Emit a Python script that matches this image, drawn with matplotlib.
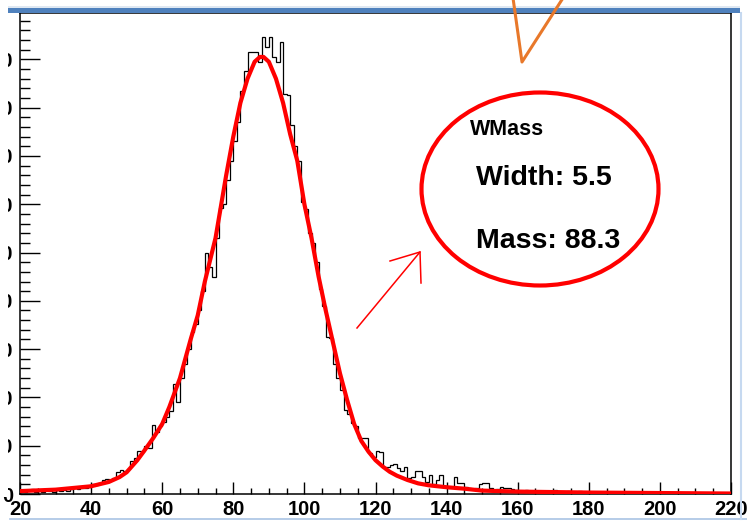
import matplotlib
matplotlib.use("Agg")
import matplotlib.pyplot as plt
import numpy as np
from matplotlib.patches import Ellipse, Rectangle
from matplotlib.lines import Line2D
from matplotlib.ticker import MultipleLocator

# ---------------- data ----------------
bin_lo = 20
bin_hi = 220
counts = [
    6, 4, 8, 10, 5, 6, 4, 9, 7, 5,            # 20-29
    8, 6, 9, 7, 10, 12, 11, 13, 12, 15,       # 30-39
    20, 18, 22, 30, 32, 30, 34, 45, 50, 48,   # 40-49
    52, 68, 75, 90, 88, 100, 95, 142, 128, 140,  # 50-59
    150, 160, 172, 228, 190, 240, 270, 300, 335, 352,  # 60-69
    380, 420, 500, 470, 450, 530, 592, 600, 650, 690,  # 70-79
    730, 770, 835, 875, 915, 915, 915, 895, 946, 925,  # 80-89
    946, 905, 895, 936, 828, 826, 764, 720, 690, 605,  # 90-99
    590, 540, 520, 480, 425, 390, 325, 322, 270, 240,  # 100-109
    215, 174, 165, 147, 140, 116, 116, 115, 85, 77,    # 110-119
    89, 88, 56, 56, 60, 62, 54, 48, 55, 33,            # 120-129
    36, 48, 47, 35, 25, 39, 20, 30, 39, 14,            # 130-139
    14, 15, 35, 23, 22, 14, 12, 10, 12, 20,            # 140-149
    23, 22, 12, 8, 10, 14, 12, 13, 10, 8,              # 150-159
    7, 5, 8, 6, 4, 7, 5, 3, 6, 4,                      # 160-169
    8, 3, 5, 2, 6, 4, 3, 7, 2, 4,                      # 170-179
    3, 5, 2, 4, 3, 2, 5, 1, 3, 2,                      # 180-189
    3, 2, 1, 4, 2, 1, 2, 3, 1, 2,                      # 190-199
    1, 2, 3, 1, 2, 1, 1, 3, 1, 2,                      # 200-209
    1, 0, 2, 1, 1, 0, 2, 1, 0, 1,                      # 210-219
]
fit_x = [20, 30, 40, 45, 48, 50, 53, 55, 57.5, 60, 62, 65, 68, 70, 72, 75, 78,
         80, 82, 84, 86, 87.5, 88.5, 90, 92, 94, 96, 98, 100, 102, 104, 106,
         108, 110, 112, 114, 116, 118, 120, 122, 124, 126, 129, 132, 135, 140,
         145, 150, 160, 170, 180, 200, 220]
fit_y = [6, 9, 16, 25, 35, 45, 70, 90, 116, 145, 180, 240, 320, 370, 440, 530,
         660, 740, 810, 860, 895, 905, 905, 895, 860, 810, 745, 690, 600, 530,
         450, 380, 315, 250, 195, 145, 110, 88, 70, 57, 46, 38, 29, 22, 18, 14,
         11, 7, 5, 4, 3, 2, 1]
x_tick_values = [20, 40, 60, 80, 100, 120, 140, 160, 180, 200, 220]
y_tick_values = [0, 100, 200, 300, 400, 500, 600, 700, 800, 900]
title_text = "WMass"
width_text = "Width: 5.5"
mass_text = "Mass: 88.3"

# ---------------- figure ----------------
W, H = 747, 521
fig = plt.figure(figsize=(W / 100, H / 100), dpi=100)
fig.patch.set_facecolor("white")

def fx(x):
    return x / W

def fy(y):
    return 1 - y / H

FONT = "Liberation Sans"

ax = fig.add_axes([20 / W, 1 - 494 / H, 711 / W, 481 / H])
edges = np.arange(bin_lo, bin_hi + 1, 1)
ax.stairs(counts, edges, color="black", lw=0.9, zorder=2)
ax.plot(fit_x, fit_y, color="red", lw=3.0, zorder=3, solid_joinstyle="round")

ax.set_xlim(bin_lo, bin_hi)
ax.set_ylim(0, 996)
ax.set_xticks(x_tick_values)
ax.set_yticks(y_tick_values)
ax.xaxis.set_minor_locator(MultipleLocator(5))
ax.yaxis.set_minor_locator(MultipleLocator(20))
ax.tick_params(axis="x", which="major", direction="in", length=9, width=1.0,
               pad=4, labelsize=14.5)
ax.tick_params(axis="x", which="minor", direction="in", length=4.5, width=1.0)
ax.tick_params(axis="y", which="major", direction="in", length=14.5, width=1.0,
               pad=5, labelsize=14.5)
ax.tick_params(axis="y", which="minor", direction="in", length=7.2, width=1.0)
for lab in ax.get_xticklabels() + ax.get_yticklabels():
    lab.set_fontfamily(FONT)
    lab.set_fontweight("bold")
for s in ax.spines.values():
    s.set_linewidth(1.1)
    s.set_color("black")

# screenshot frame decorations: white strip at the cropped left edge
fig.add_artist(Rectangle((0, fy(497)), fx(8.0), fy(8) - fy(497),
                         transform=fig.transFigure,
                         facecolor="white", edgecolor="none", zorder=10))
fig.add_artist(Rectangle((fx(8), fy(12.5)), fx(740) - fx(8), (12.5 - 8) / H,
                         transform=fig.transFigure, facecolor="#4f81bd",
                         edgecolor="none", zorder=11))
fig.add_artist(Rectangle((fx(8), fy(8)), fx(740) - fx(8), 2 / H,
                         transform=fig.transFigure, facecolor="#dfe8f2",
                         edgecolor="none", zorder=11))
fig.add_artist(Line2D([fx(10), fx(747)], [fy(518.5), fy(518.5)],
                      transform=fig.transFigure, color="#a9c4e4", lw=1.2))
fig.add_artist(Line2D([fx(740.5), fx(740.5)], [fy(13), fy(518.5)],
                      transform=fig.transFigure, color="#c6d9f0", lw=1.5))

# orange V
fig.add_artist(Line2D([fx(513), fx(522), fx(563)], [fy(-2), fy(62), fy(-2)],
                      transform=fig.transFigure, color="#e8782a", lw=2.2,
                      zorder=12))

# red ellipse
fig.add_artist(Ellipse((fx(540), fy(189)), 237 / W, 193 / H,
                       transform=fig.transFigure, fill=False,
                       edgecolor="red", lw=3.0, zorder=12))

# red hand-drawn arrow
fig.add_artist(Line2D([fx(357), fx(420)], [fy(328), fy(252)],
                      transform=fig.transFigure, color="red", lw=1.1, zorder=12))
fig.add_artist(Line2D([fx(390), fx(420), fx(421)], [fy(261), fy(252), fy(283)],
                      transform=fig.transFigure, color="red", lw=1.1, zorder=12))

# texts
fig.text(fx(470), fy(135), title_text, fontsize=15.5, fontweight="bold",
         family=FONT, ha="left", va="baseline", zorder=13)
fig.text(fx(476), fy(185), width_text, fontsize=20.5, fontweight="bold",
         family=FONT, ha="left", va="baseline", zorder=13)
fig.text(fx(476), fy(248), mass_text, fontsize=20.5, fontweight="bold",
         family=FONT, ha="left", va="baseline", zorder=13)

fig.savefig("out.png", dpi=100)
